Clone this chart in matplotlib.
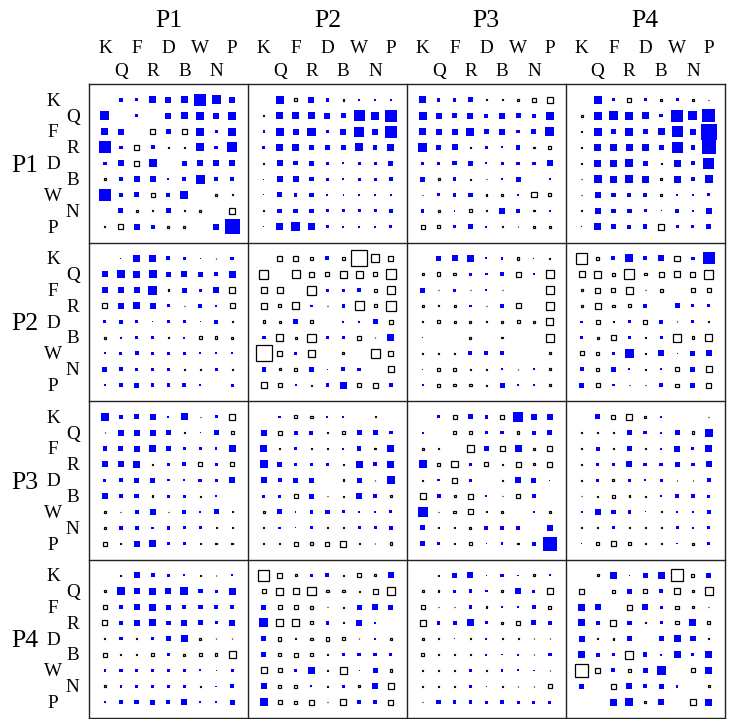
import matplotlib
matplotlib.use("Agg")
import matplotlib.pyplot as plt
from matplotlib.patches import Rectangle

pieces = ["K", "Q", "F", "R", "D", "B", "W", "N", "P"]
players = ["P1", "P2", "P3", "P4"]

# signed square sizes (px); positive = blue filled, negative = hollow
P1P1 = [[0, 4, 3, 7, 6, 7, 12, 9, 6],
        [9, 0, 3.5, 0, 6, 7, 8, 6, 8],
        [7, 6, 0, -6, 5, -6, 8, 3, 8],
        [12, 3.5, -6, 4, -2, -2, 8, 3.5, 10],
        [3.5, 6, -6, 8, 0, 5, 6, 6, 6],
        [-3, 4, 6, 6, 2, 4, 9, 4, 4],
        [12, 4, 5, -5, 4, 8, 0, -3, -2],
        [0, 5, -3, -2, 5, -2, -3, 0, -7],
        [-2, -6, 6, 4, -3, -3, 0, 6, 15]]
P1P2 = [[0, 8, -4, 6, 3.5, -2.5, 2, 2.5, 2],
        [-1.5, 7, 7, 7, 6, 5, 11, 8, 12],
        [2.5, 8, 6, 8, 3.5, 6, 10, 6, 12],
        [3, 7, 7, 5, 5, 4.5, 8, 4.5, 7],
        [-1.5, 6, 4.5, 5, 3, 2, 3, 3, 5],
        [1, 6, 6, 4.5, 3, 2, 3, 3, 4],
        [1, 5, 3.5, 4.5, 2, 1.5, 2, 2, 2],
        [-1.5, 4.5, 4.5, 4.5, 3, 3, 3, 3, 3.5],
        [1, 7, 9, 7, 3, 2, 2, 2, 3]]
P1P3 = [[7, 3.5, 3.5, 5, -2, -2, -3, -5, -7],
        [8, 6, 5, 6, 4, 6, 5, 4, 8],
        [7, 6, 6, 8, 4.5, 6, 3.5, 5, 9],
        [9, 4.5, 6, -2, 2.5, 2, 4.5, -2, -4],
        [3.5, 3.5, 4.5, 5, 2, 3, 3.5, 3.5, 6],
        [5, -3, 3.5, -2, -1.5, 2.5, 5, -1.5, 2.5],
        [-1.5, 3, 3.5, 4.5, -2.5, -2.5, 1.5, -6, -4],
        [3.5, -3, 1.5, -4, -1.5, 6, 3.5, -2, 2.5],
        [-5, -4, 3, 5, 2, -1.5, -1.5, -3, -3]]
P1P4 = [[0, 8, 3, -5, 3, -2.5, 3, -3, -1.5],
        [-3, 8, 9, 8, 7, 3.5, 12, 9, 13],
        [-1.5, 8, 5, 8, 5, 7, 11, 6, 16],
        [-1.5, 7, 7, 7, 7, 5, 11, 4.5, 14],
        [-1.5, 7, 7, 8, 5, -2, 7, 4.5, 11],
        [-1.5, 8, 7, 8, 7, -2.5, 7, 3.5, 8],
        [-1.5, 6, 4.5, 4, 4.5, -2.5, 2, 1.5, 3],
        [-1, 6, 4.5, 4.5, 3, 1, 3.5, 1.5, 6],
        [1, 7, 4.5, 4, 4.5, -7, 3, 3, 5]]
P2P1 = [[0, 1, 7, 7, 4, 2.5, 1, -1.5, 3.5],
        [6, 8, 7, 8, 5, 6, 5, 3.5, 7],
        [6, 6, 6, 9, -2.5, 5, 3, 6, -7],
        [-6, 6, 7, 6, 3, -1.5, 3.5, 2.5, -6],
        [3, 4.5, 3, 1.5, 3.5, 3.5, 1, 4, -2],
        [-3, 2, 2.5, 2.5, -1.5, 2, -3.5, -3.5, -3],
        [2, 3, 4, 3.5, 2.5, 3, 2, 2, 2],
        [5, 4, 3.5, 3.5, 3, -2, -1.5, 3, -2],
        [2, 4, 5, 3.5, 3.5, 4, 2, -1.5, 3]]
P2P2 = [[0, -6, -6, -4, 4, -3.5, -17, -9, -6],
        [-10, 0, -9, -6, -5, -8, -8, -5, -11],
        [-7, -7, 0, -10, 3, 3, 3.5, -4, -9],
        [-7, -4, -8, 2.5, -1.5, 3.5, -10, -4, -11],
        [-3.5, -3, 5, -4, 0, 2, 2, 5, -5],
        [3.5, -8, -3, -9, 3, 2.5, -5, -1.5, 7],
        [-17, -6, 3, -8, 0, -3, 0, -10, -6],
        [4.5, -3, -4, 5, 1, 4, 3.5, 0, -7],
        [-7, -5, 2, -2, 3.5, 7, -5, -6, 3.5]]
P2P3 = [[0, 5, 6, 7, 2, 2.5, -3.5, 1, -2],
        [-2.5, -4.5, -3.5, 3, 2.5, 3.5, -6, 2, -9],
        [5, -1.5, 3, -1.5, 2, -1, 0, 0, -9],
        [-3, -2, -3, 2.5, -1.5, 4, -6, -1.5, -9],
        [-1.5, -4, -3, -3, -2, -2.5, -4, -3, -8],
        [1.5, 0, 0, -3, 0, -2.5, 0, 0, -9],
        [-1.5, -2.5, -2, 4, 4, 4, 0, 0, -3],
        [1, -3.5, -3.5, -1.5, -1.5, 2, -1.5, 2, -3],
        [2, -4, -3.5, -3.5, -2, 5, 2, 1.5, -3.5]]
P2P4 = [[-12, -4, 4, 8, 4, 6, -6, 3.5, 12],
        [-7, -8, -4, -11, -3.5, -6, -7, -6, -10],
        [-3, -6, -5, -8, -1.5, -4, -1.5, -5.5, -5],
        [-3, -7, -3.5, -4, 4, -1.5, 5, 3, 3],
        [2.5, -5, -1.5, 3, -5, 4, -1.5, 3, -2],
        [3.5, -3, -6, 2.5, -1.5, 3, -9, -3.5, -8],
        [-5, -4.5, 3, 9, -1, 6, 1, 5, 6],
        [4, -3.5, 5, 2, -1, 2, -5, 5, -7],
        [5, -5, 2.5, -1.5, -1.5, 4.5, -4, 5, -6]]
P3P1 = [[8, 4, 5, 6, 2, 7, -1.5, 3, -7],
        [-1.5, 6, 6, 6, 5, -2.5, 1, 5, -4],
        [4.5, 5, 6, 7, 5, 3, 3, 2.5, 7],
        [6, 6, 7, -2, 3.5, 4, -5, 3, -5],
        [3, 4, 5, 5, 2.5, 2, 3.5, 3, 6],
        [6, 4.5, 4.5, -2.5, 3, 3, -2, 2.5, -1.5],
        [-3.5, -1.5, 4, 6, -1.5, 4, 2, 5, -2],
        [-3.5, 4, 4, 2.5, 3.5, 3, 3, -2, -2],
        [-5, -1.5, 6, 7, 3.5, 3, -1.5, -2.5, -2.5]]
P3P2 = [[0, 2.5, -4, -3.5, 2, 2, -1.5, -2, -1.5],
        [6, -5, 4, 4, -2, -4, 5, 5, 3.5],
        [7, -1.5, 3, -2, -1.5, 2, 4.5, -2.5, 7],
        [8, 5, 3, 3, 3.5, -1.5, 7, 4, 7],
        [6, 4, 5, 5, 0, -2.5, 5, -1.5, 8],
        [3, 3, -5, 5, -1.5, -2, 6, 4, -3.5],
        [-3, 5, 1.5, 3.5, 4.5, 3, 1.5, 2, 3],
        [-1.5, 2.5, 1, 3, -1.5, -1.5, 3, 3, 4],
        [-1.5, -1.5, -5, -3.5, -5, -7, -2, -1.5, -3.5]]
P3P3 = [[0, 3, -5, 5, 3.5, -5, 10, 6, 6],
        [2, 0, -4, -4.5, 2.5, 3.5, -3.5, 4, 5],
        [-3, -2, 0, -8, 4.5, -6, 7, -3, -6],
        [8, -3.5, -7, 3.5, -5, -1.5, -6, -3, -6],
        [-2, 2.5, -6, 3, 0, -1.5, 6, 5, 1],
        [-7, 4, -3, -6, 2, -1.5, -5.5, 4, -1],
        [10, -1.5, -3.5, -6, -2, -3.5, 0, 2, -3.5],
        [5, -1.5, -2, -3, 4, 4.5, 4, 0, 6],
        [5, 3.5, -2, -3.5, 1.5, 2.5, -2.5, 4, 14]]
P3P4 = [[0, 5, -5, -7, -3, 2, -1.5, -1.5, -1.5],
        [-2, -2.5, -2, 5, 3.5, 2, 5, -3.5, 8],
        [-2, 4, -1.5, 5, -1.5, 2, 6, 3, 7],
        [-2, 2.5, 3.5, 6, 3.5, 3.5, 5, 3.5, 6],
        [-1.5, 3, -3, 3, 2, 3, -1.5, -1.5, 4.5],
        [-1.5, -2, -4, -2.5, -2, 1.5, 3.5, 4, 3],
        [2, 6, 4.5, 3.5, 1, -2, 2, 1.5, 3.5],
        [-1.5, -2, 3, -2, -1.5, -2, 3, 2, 3],
        [1.5, -3.5, -6, -4.5, -2, -2, 1.5, -3, 3]]
P4P1 = [[0, -2, 6, 4, 3.5, 2, -1.5, -1.5, 2],
        [-3.5, 8, 6, 7, 6, 8, 4.5, 3, 7],
        [-5, 4.5, 6, 7, 5, 4, 4.5, 4, 4.5],
        [-6, 4.5, 6, 7, 4.5, 6, 5, 3, 6],
        [-2, 3.5, -1.5, 3, 5, 7, -3, -1, -1.5],
        [-5, -1.5, -1.5, -3.5, 3, -3, -3.5, -3.5, -8],
        [2.5, 3.5, 3, 3.5, 3, 3.5, 2, 1, 3],
        [-3, 2.5, 3, 3, 3, 3.5, -1.5, 1.5, 4],
        [2.5, 4, 4.5, 5, 4, 6, 2.5, 2, 5]]
P4P2 = [[-12, -5.5, -3, 3, 4, -1.5, -5, -3, 6],
        [-5, -8, -7, -9, -3.5, -3.5, -2, -6, -9],
        [5, -5, -5, -4, -1.5, -2, 5, 6, 5],
        [9, -8, -8, -4, 3.5, -2, 6, 2, -1.5],
        [5, -4.5, -1.5, -3, -4.5, -4, -1.5, 2, -2.5],
        [5, -4, -5, -4, -1.5, 3.5, 3.5, 3.5, 3],
        [-7, -5, 3, 7, -1.5, -8, 1, 5, -3.5],
        [6, -4, -3.5, 2, -1.5, 3.5, -3, 6, -7],
        [8, -5, -4, -6, -1.5, -7, 4.5, 3.5, -6]]
P4P3 = [[0, -1.5, 5, 6, 1.5, 3.5, 1.5, -3, 2],
        [-2.5, -2.5, 3, 3.5, 2.5, -3, 6, 3, -7],
        [-5, -1.5, -1.5, 3.5, -2.5, 2, 2.5, 3.5, -4],
        [-6.5, 3.5, 4, 7, 3, -3, -5.5, 5, 4],
        [-2.5, -1.5, 1, -1.5, 2, -2, -2, -1.5, -1.5],
        [-4, -2.5, -2, -2.5, 2, 1.5, 2, -1.5, 3.5],
        [-1.5, -2, -1.5, 2.5, -1.5, 2.5, 2, 1.5, -1.5],
        [-2, -1.5, -1.5, 2.5, 1.5, -1.5, -1.5, -1.5, -5],
        [-1.5, 4.5, 3.5, 3.5, 3, 4, 3, 3, 3]]
P4P4 = [[0, -3, 7, 1.5, 5, 7, -13, -4, 5],
        [-6, 0, -4, 5, -5, 4, -7, -3, -9],
        [7, 6, 0, -6, 6, 3, -4, -3.5, -1.5],
        [7, 4, -7, 4.5, -2, 3, -4, 7, -4],
        [6, -1.5, -2.5, 5, 0, 5, 7, 5.5, -2],
        [7, 4, 3.5, -9, 4.5, 2, 7, 3, 7],
        [-14, -6, 4, -4, 5, 9, 0, -5, 7],
        [5, 0, -6, 6, 4, 5, 2.5, 0, -3],
        [0, 0, 7, 8, -2.5, 6, 0, -7, 7]]

blocks = [[P1P1, P1P2, P1P3, P1P4],
          [P2P1, P2P2, P2P3, P2P4],
          [P3P1, P3P2, P3P3, P3P4],
          [P4P1, P4P2, P4P3, P4P4]]

BLUE = "#0000ff"
SERIF = ["Liberation Serif", "DejaVu Serif"]
PX = 15.87  # pixels per data unit

fig = plt.figure(figsize=(7.35, 7.19), dpi=100)
ax = fig.add_axes([89 / 735, 1 / 719, 635.7 / 735, 634 / 719])
ax.set_xlim(0, 40)
ax.set_ylim(40, 0)
ax.axis("off")

for bi in range(4):
    for bj in range(4):
        M = blocks[bi][bj]
        for r in range(9):
            for c in range(9):
                v = M[r][c]
                if v == 0:
                    continue
                s = abs(v) / PX
                cx = 10 * bj + 1 + c
                cy = 10 * bi + 1 + r
                if v > 0:
                    ax.add_patch(Rectangle((cx - s / 2, cy - s / 2), s, s,
                                           facecolor=BLUE, edgecolor="none", lw=0))
                else:
                    s2 = max(s - 0.06, 0.04)
                    ax.add_patch(Rectangle((cx - s2 / 2, cy - s2 / 2), s2, s2,
                                           facecolor="white", edgecolor="black", lw=0.9))

# block separators and border
for k in range(5):
    ax.plot([10 * k, 10 * k], [0, 40], color="#222222", lw=1.0, clip_on=False,
            solid_capstyle="projecting")
    ax.plot([0, 40], [10 * k, 10 * k], color="#222222", lw=1.0, clip_on=False,
            solid_capstyle="projecting")

# labels
for b, name in enumerate(players):
    ax.text(10 * b + 5, -3.58, name, ha="center", va="baseline",
            fontsize=18.5, family=SERIF, clip_on=False)
    ax.text(-4.05, 10 * b + 5 + 0.53, name, ha="center", va="baseline",
            fontsize=18.5, family=SERIF, clip_on=False)
    for i, p in enumerate(pieces):
        if i % 2 == 0:
            ax.text(10 * b + 1 + i, -1.94, p, ha="center", va="baseline",
                    fontsize=13.8, family=SERIF, clip_on=False)
            ax.text(-2.27, 10 * b + 1 + i + 0.37, p, ha="center", va="baseline",
                    fontsize=13.8, family=SERIF, clip_on=False)
        else:
            ax.text(10 * b + 1 + i, -0.5, p, ha="center", va="baseline",
                    fontsize=13.8, family=SERIF, clip_on=False)
            ax.text(-1.03, 10 * b + 1 + i + 0.37, p, ha="center", va="baseline",
                    fontsize=13.8, family=SERIF, clip_on=False)

fig.savefig("out.png", dpi=100)
